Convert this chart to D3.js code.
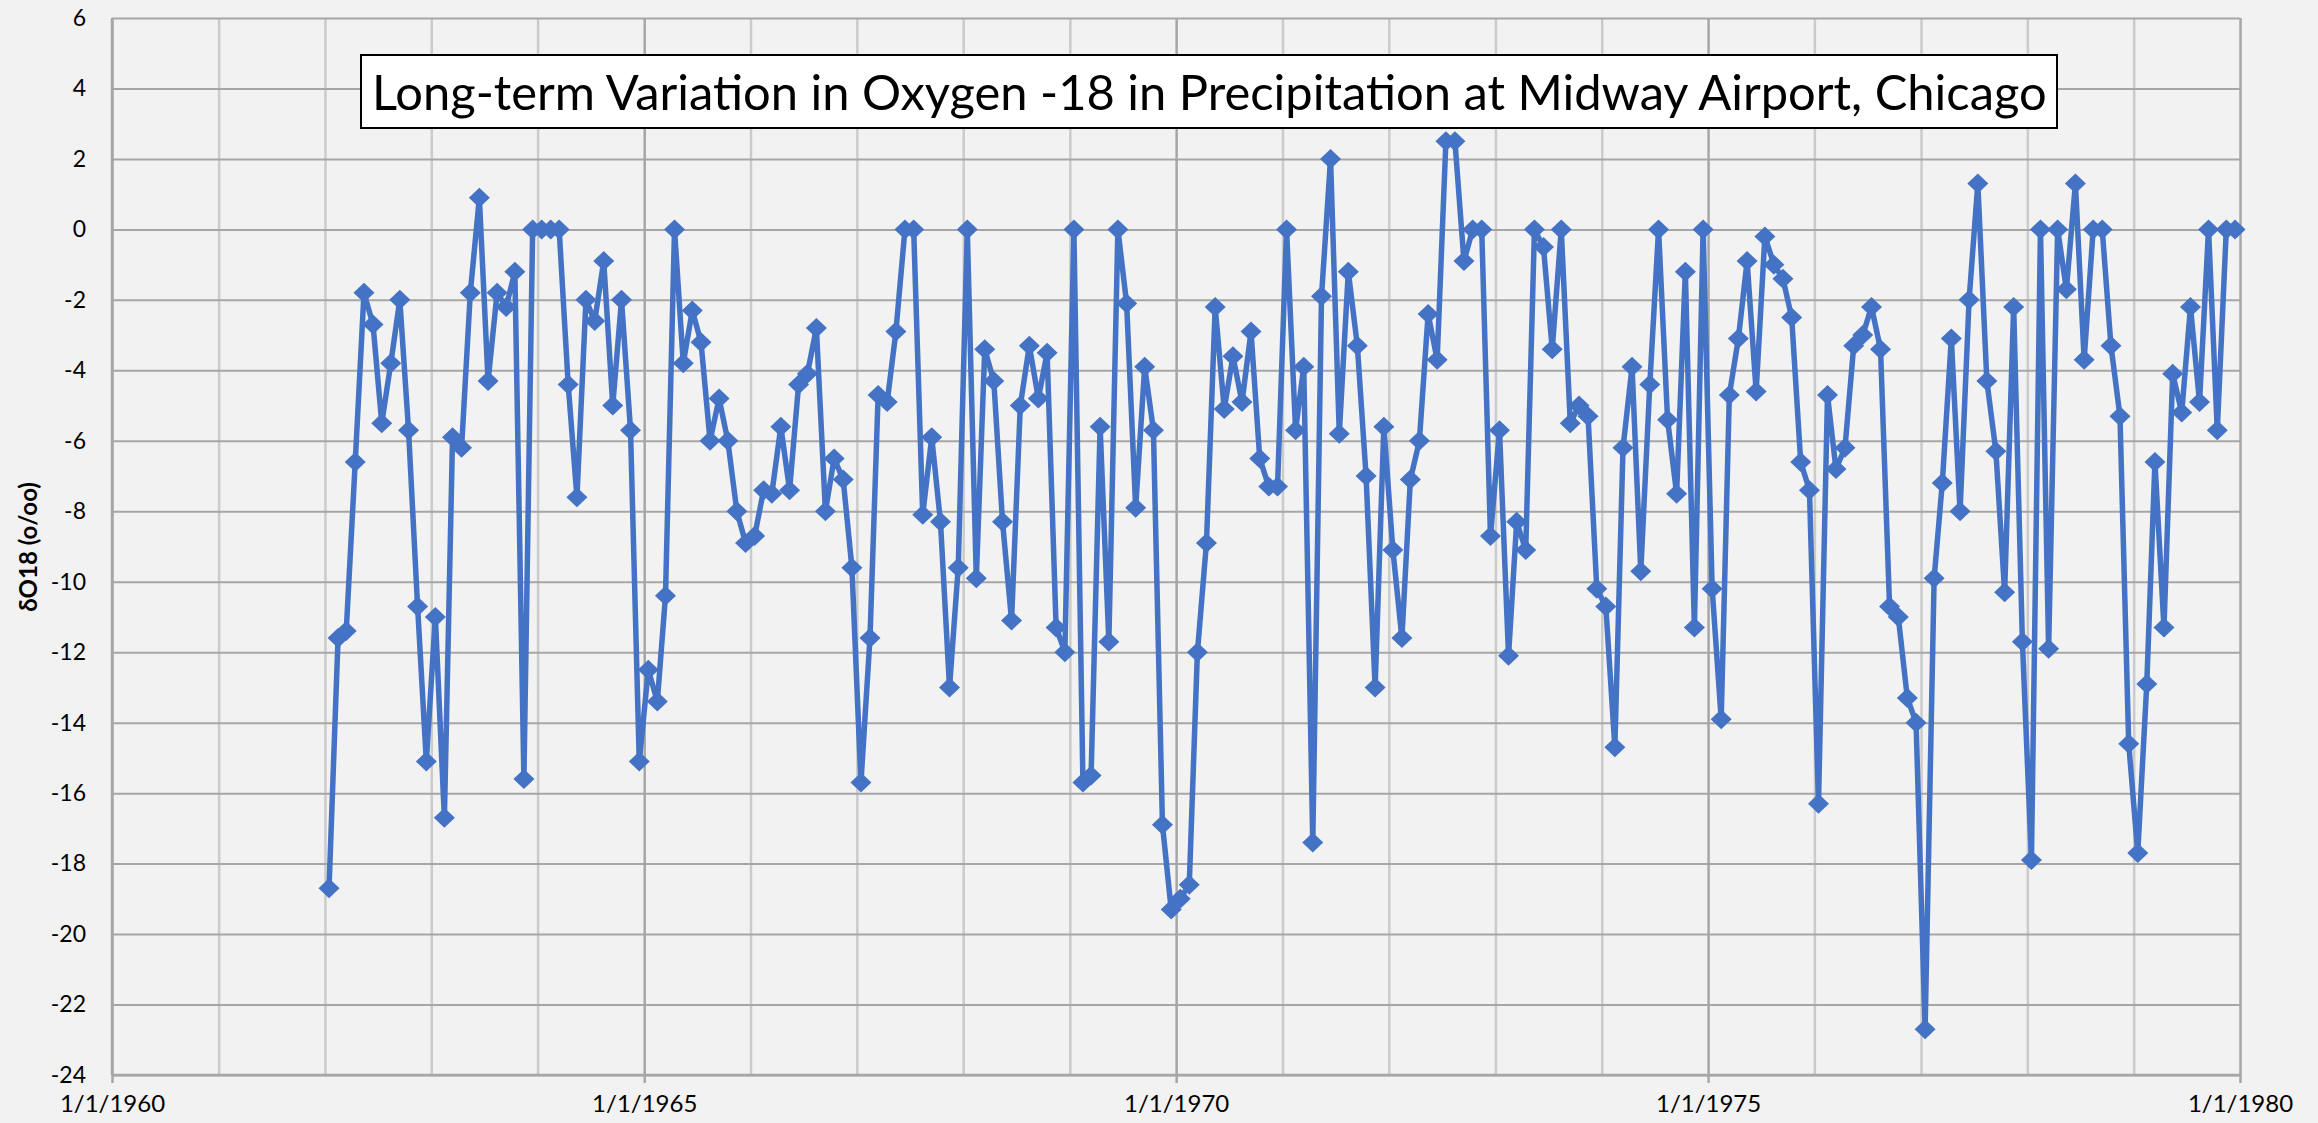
<!DOCTYPE html>
<html>
<head>
    <meta charset="utf-8"/>
    <script src="https://d3js.org/d3.v7.min.js"></script>
    <style>
        body { margin: 0; background-color: #f2f2f2; }
        svg { display: block; }
    </style>
</head>
<body>
<script>
 // monthly d18O values (o/oo), Jan..Dec, one array per year
 var years = [1962,1963,1964,1965,1966,1967,1968,1969,1970,1971,1972,1973,1974,1975,1976,1977,1978,1979];
 var o18_1962 = [-18.7,-11.6,-11.4,-6.6,-1.8,-2.7,-5.5,-3.8,-2.0,-5.7,-10.7,-15.1];
 var o18_1963 = [-11.0,-16.7,-5.9,-6.2,-1.8,0.9,-4.3,-1.8,-2.2,-1.2,-15.6,0];
 var o18_1964 = [0,0,0,-4.4,-7.6,-2.0,-2.6,-0.9,-5.0,-2.0,-5.7,-15.1];
 var o18_1965 = [-12.5,-13.4,-10.4,0,-3.8,-2.3,-3.2,-6.0,-4.8,-6.0,-8.0,-8.9];
 var o18_1966 = [-8.7,-7.4,-7.5,-5.6,-7.4,-4.4,-4.1,-2.8,-8.0,-6.5,-7.1,-9.6];
 var o18_1967 = [-15.7,-11.6,-4.7,-4.9,-2.9,0,0,-8.1,-5.9,-8.3,-13.0,-9.6];
 var o18_1968 = [0,-9.9,-3.4,-4.3,-8.3,-11.1,-5.0,-3.3,-4.8,-3.5,-11.3,-12.0];
 var o18_1969 = [0,-15.7,-15.5,-5.6,-11.7,0,-2.1,-7.9,-3.9,-5.7,-16.9,-19.3];
 var o18_1970 = [-19.0,-18.6,-12.0,-8.9,-2.2,-5.1,-3.6,-4.9,-2.9,-6.5,-7.3,-7.3];
 var o18_1971 = [0,-5.7,-3.9,-17.4,-1.9,2.0,-5.8,-1.2,-3.3,-7.0,-13.0,-5.6];
 var o18_1972 = [-9.1,-11.6,-7.1,-6.0,-2.4,-3.7,2.5,2.5,-0.9,0,0,-8.7];
 var o18_1973 = [-5.7,-12.1,-8.3,-9.1,0,-0.5,-3.4,0,-5.5,-5.0,-5.3,-10.2];
 var o18_1974 = [-10.7,-14.7,-6.2,-3.9,-9.7,-4.4,0,-5.4,-7.5,-1.2,-11.3,0];
 var o18_1975 = [-10.2,-13.9,-4.7,-3.1,-0.9,-4.6,-0.2,-1.0,-1.4,-2.5,-6.6,-7.4];
 var o18_1976 = [-16.3,-4.7,-6.8,-6.2,-3.3,-3.0,-2.2,-3.4,-10.7,-11.0,-13.3,-14.0];
 var o18_1977 = [-22.7,-9.9,-7.2,-3.1,-8.0,-2.0,1.3,-4.3,-6.3,-10.3,-2.2,-11.7];
 var o18_1978 = [-17.9,0,-11.9,0,-1.7,1.3,-3.7,0,0,-3.3,-5.3,-14.6];
 var o18_1979 = [-17.7,-12.9,-6.6,-11.3,-4.1,-5.2,-2.2,-4.9,0,-5.7,0,0];
 var yearValues = [o18_1962,o18_1963,o18_1964,o18_1965,o18_1966,o18_1967,o18_1968,o18_1969,o18_1970,
                   o18_1971,o18_1972,o18_1973,o18_1974,o18_1975,o18_1976,o18_1977,o18_1978,o18_1979];

 var yTicks = [-24,-22,-20,-18,-16,-14,-12,-10,-8,-6,-4,-2,0,2,4,6];
 var labelYears = [1960,1965,1970,1975,1980];
 var titleText = "Long-term Variation in Oxygen -18 in Precipitation at Midway Airport, Chicago";
 var yTitle = "\u03B4O18 (o/oo)";

 //globals (window.top is reserved, so plot* names)
 var width = 2318, height = 1123;
 var plotLeft = 112, plotRight = 2240, plotTop = 18, plotBottom = 1075;
 var fontFam = "Lato, 'Open Sans', sans-serif";

 // one point per month, placed mid month
 var data = [];
 years.forEach(function(yr, i){
     yearValues[i].forEach(function(v, m){
         data.push({date: new Date(yr, m, 15), value: v});
     });
 });

 var x = d3.scaleTime()
     .domain([new Date(1960,0,1), new Date(1980,0,1)])
     .range([plotLeft, plotRight]);
 var y = d3.scaleLinear().domain([-24, 6]).range([plotBottom, plotTop]);

 var svg = d3.select("body").append("svg")
     .attr("width", width)
     .attr("height", height);

 svg.append("rect").attr("width", width).attr("height", height).attr("fill", "#f2f2f2");

 //vertical gridlines every year (darker every 5 years)
 var gx = svg.append("g")
     .attr("transform", "translate(0," + plotBottom + ")")
     .call(d3.axisBottom(x).ticks(d3.timeYear.every(1)).tickSize(-(plotBottom - plotTop)).tickFormat(""));
 gx.select(".domain").remove();
 gx.selectAll(".tick line")
     .attr("stroke", function(d){ return d.getFullYear() % 5 == 0 ? "#a6a6a6" : "#cbcbcb"; })
     .attr("stroke-width", 2.5);

 //horizontal gridlines + y labels
 var gy = svg.append("g")
     .attr("transform", "translate(" + plotLeft + ",0)")
     .call(d3.axisLeft(y).tickValues(yTicks).tickSize(-(plotRight - plotLeft)).tickPadding(26)
         .tickFormat(function(d){ return d3.format("d")(d).replace("\u2212", "-"); }));
 gy.select(".domain").remove();
 gy.selectAll(".tick line").attr("stroke", "#a6a6a6").attr("stroke-width", 2);
 gy.selectAll(".tick text")
     .attr("font-family", fontFam)
     .attr("font-size", 23)
     .attr("fill", "#000");

 //axis lines
 svg.append("line").attr("x1", plotLeft).attr("x2", plotLeft).attr("y1", plotTop).attr("y2", plotBottom)
     .attr("stroke", "#a6a6a6").attr("stroke-width", 2.5);
 svg.append("line").attr("x1", plotLeft).attr("x2", plotRight).attr("y1", plotBottom).attr("y2", plotBottom)
     .attr("stroke", "#a6a6a6").attr("stroke-width", 2.5);

 //bottom labels every 5 years
 var gl = svg.append("g")
     .attr("transform", "translate(0," + plotBottom + ")")
     .call(d3.axisBottom(x)
         .tickValues(labelYears.map(function(yr){ return new Date(yr,0,1); }))
         .tickSize(8).tickPadding(12)
         .tickFormat(d3.timeFormat("%-m/%-d/%Y")));
 gl.select(".domain").remove();
 gl.selectAll(".tick line").attr("stroke", "#a6a6a6").attr("stroke-width", 2.5);
 gl.selectAll(".tick text")
     .attr("font-family", fontFam)
     .attr("font-size", 24)
     .attr("fill", "#000");

 //y axis title
 svg.append("text")
     .attr("transform", "translate(37,547) rotate(-90)")
     .attr("text-anchor", "middle")
     .attr("font-family", fontFam)
     .attr("font-weight", "bold")
     .attr("font-size", 24)
     .text(yTitle);

 //series line
 var line = d3.line()
     .x(function(d){ return x(d.date); })
     .y(function(d){ return y(d.value); });

 svg.append("path")
     .datum(data)
     .attr("d", line)
     .attr("fill", "none")
     .attr("stroke", "#4472c4")
     .attr("stroke-width", 5.5)
     .attr("stroke-linejoin", "round");

 //diamond markers
 svg.append("g").selectAll("path")
     .data(data)
     .enter()
     .append("path")
     .attr("d", "M0,-10L10.5,0L0,10L-10.5,0Z")
     .attr("transform", function(d){ return "translate(" + x(d.date) + "," + y(d.value) + ")"; })
     .attr("fill", "#4472c4");

 //title box
 var tg = svg.append("g");
 tg.append("rect")
     .attr("x", 361).attr("y", 55).attr("width", 1696).attr("height", 73)
     .attr("fill", "#ffffff").attr("stroke", "#000").attr("stroke-width", 2);
 var title = tg.append("text")
     .attr("x", 372)
     .attr("y", 110)
     .attr("font-family", fontFam)
     .attr("font-size", 50)
     .attr("fill", "#000")
     .text(titleText);
 // fit the title to the box width
 var tw = title.node().getComputedTextLength();
 title.attr("font-size", 50 * 1675 / tw);

</script>
</body>
</html>
